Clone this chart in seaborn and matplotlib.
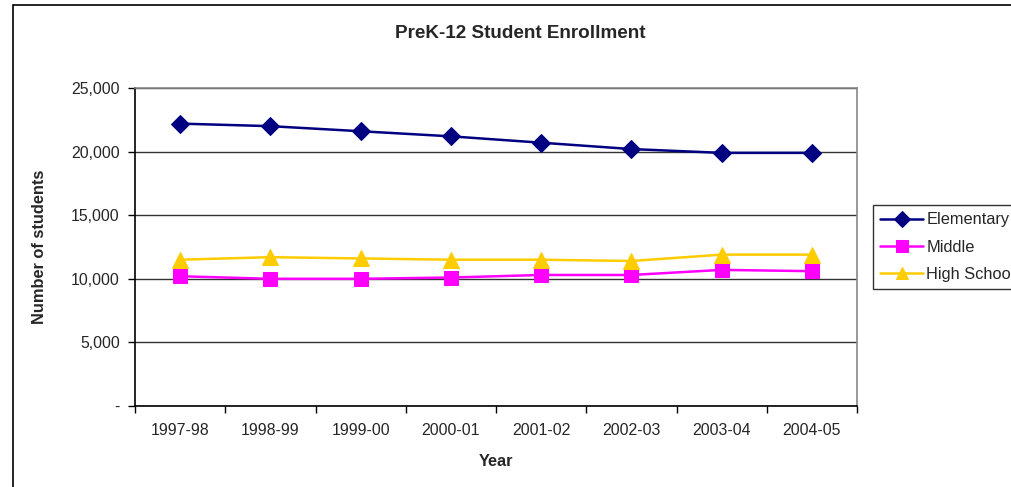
import matplotlib
matplotlib.use("Agg")
import matplotlib.pyplot as plt
from matplotlib.patches import Rectangle
from matplotlib.ticker import FuncFormatter, FixedLocator
import seaborn as sns
import pandas as pd
import numpy as np

# data
years = ["1997-98", "1998-99", "1999-00", "2000-01",
         "2001-02", "2002-03", "2003-04", "2004-05"]
elementary = [22200, 22000, 21600, 21200, 20700, 20200, 19900, 19900]
middle = [10200, 10000, 10000, 10100, 10300, 10300, 10700, 10600]
high_school = [11500, 11700, 11600, 11500, 11500, 11400, 11900, 11900]

levels = ["Elementary", "Middle", "High School"]
colors = ["#000080", "#FF00FF", "#FFCC00"]
markers = ["D", "s", "^"]
sizes = [9, 10, 11]

df = pd.DataFrame({
    "Year": years * 3,
    "Students": elementary + middle + high_school,
    "Level": np.repeat(levels, len(years)),
})

sns.set_style("white")
plt.rcParams["font.family"] = ["Liberation Sans", "DejaVu Sans"]

fig = plt.figure(figsize=(10.11, 4.87), dpi=100)
ax = fig.add_axes([135 / 1011, 1 - 406 / 487, (857 - 135) / 1011, (406 - 88) / 487])

# chart border (cut off at right and bottom like the original)
fig.patches.append(Rectangle((13 / 1011, -0.1), 2.0, 1.1 - 5 / 487,
                             transform=fig.transFigure, fill=False,
                             edgecolor="black", linewidth=1.2))

for lvl, c, m, ms in zip(levels, colors, markers, sizes):
    sns.lineplot(data=df[df["Level"] == lvl], x="Year", y="Students",
                 ax=ax, color=c, marker=m, markersize=ms,
                 markeredgecolor=c, linewidth=1.8, label=lvl)

ax.set_xlim(-0.5, len(years) - 0.5)
ax.set_ylim(0, 25000)
ax.set_yticks(range(0, 25001, 5000))
ax.yaxis.set_major_formatter(FuncFormatter(lambda v, p: "-" if v == 0 else f"{int(v):,}"))
ax.grid(axis="y", color="#333333", linewidth=1)
ax.grid(axis="x", visible=False)
ax.set_axisbelow(True)

ax.xaxis.set_minor_locator(FixedLocator(np.arange(-0.5, len(years), 1)))
ax.tick_params(axis="x", which="major", length=0, pad=12, labelsize=11.4)
ax.tick_params(axis="x", which="minor", length=5, width=1, color="black", direction="out")
ax.tick_params(axis="y", length=5, width=1, color="black", direction="out", labelsize=11.4, pad=6)
ax.tick_params(bottom=True, left=True, which="both")

for side in ["left", "bottom"]:
    ax.spines[side].set_color("black")
    ax.spines[side].set_linewidth(1.2)
for side in ["top", "right"]:
    ax.spines[side].set_color("#888888")
    ax.spines[side].set_linewidth(1.2)

ax.set_xlabel("Year", fontsize=11.8, fontweight="bold", labelpad=12)
ax.set_ylabel("Number of students", fontsize=11.8, fontweight="bold", labelpad=17)
fig.text(520 / 1011, 1 - 33 / 487, "PreK-12 Student Enrollment",
         ha="center", va="center", fontsize=13.6, fontweight="bold")

ax.get_legend().remove()
handles, labels = ax.get_legend_handles_labels()
leg = fig.legend(handles, labels, loc="upper left",
                 bbox_to_anchor=(873 / 1011, 1 - 205 / 487),
                 fontsize=11.8, frameon=True, fancybox=False,
                 edgecolor="black", handlelength=2.6, handletextpad=0.2,
                 labelspacing=0.75, borderpad=0.45, borderaxespad=0,
                 markerscale=0.85)
leg.get_frame().set_linewidth(1)

fig.savefig("out.png", dpi=100)
